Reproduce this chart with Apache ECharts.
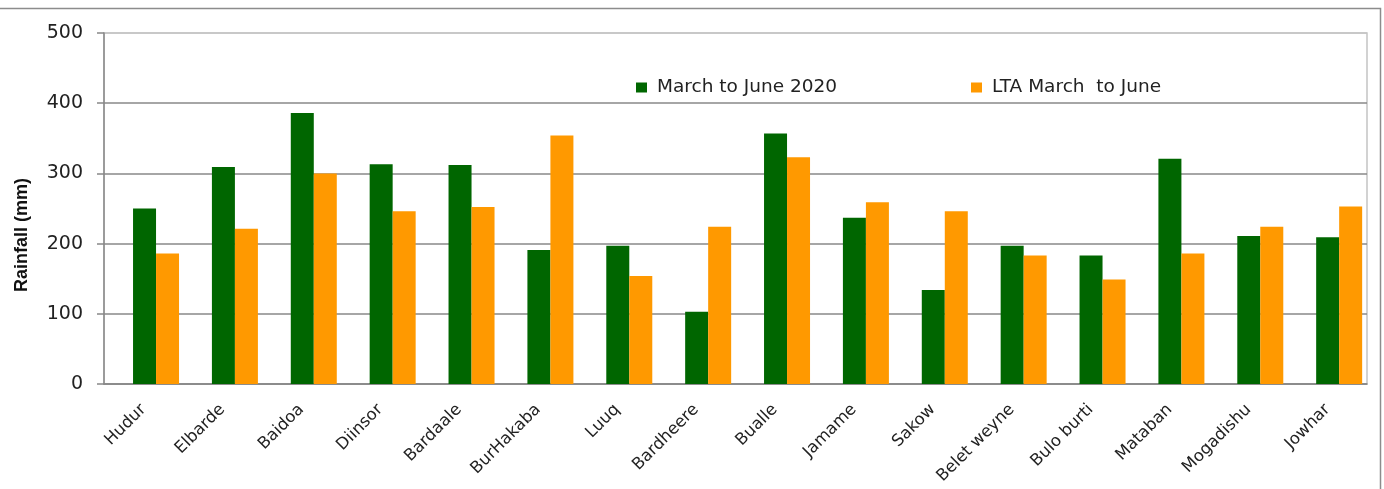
<!DOCTYPE html>
<html><head><meta charset="utf-8">
<script src="https://cdn.jsdelivr.net/npm/echarts@6/dist/echarts.min.js"></script>
<style>html,body{margin:0;padding:0;background:#fff}#c{width:1384px;height:489px}</style>
</head><body><div id="c"></div>
<script>
const categories = ['Hudur','Elbarde','Baidoa','Diinsor','Bardaale','BurHakaba','Luuq','Bardheere','Bualle','Jamame','Sakow','Belet weyne','Bulo burti','Mataban','Mogadishu','Jowhar'];
const seriesNames = ['March to June 2020','LTA March  to June'];
const rain2020 = [250,309,386,313,312,191,197,103,357,237,134,197,183,321,211,209];
const rainLTA = [186,221,300,246,252,354,154,224,323,259,246,183,149,186,224,253];
const yTicks = [0,100,200,300,400,500];
const yTitle = 'Rainfall (mm)';

const chart = echarts.init(document.getElementById('c'));
const TOP = 33, BOTTOM = 105;
const legendText = {fontFamily: 'DejaVu Sans', fontSize: 18.5, lineHeight: 18, color: '#222', padding: [0,0,0,5]};
chart.setOption({
  animation: false,
  backgroundColor: '#fff',
  graphic: [
    {type: 'rect', silent: true, z: 0,
     shape: {x: -10, y: 8.5, width: 1390.5, height: 520},
     style: {fill: 'none', stroke: '#8c8c8c', lineWidth: 1.5}},
    {type: 'text', silent: true, x: 22, y: 235, rotation: Math.PI / 2,
     style: {text: yTitle, fontFamily: 'Liberation Sans', fontWeight: 'bold', fontSize: 18,
             fill: '#111', align: 'center', verticalAlign: 'middle'}}
  ],
  legend: [
    {data: [seriesNames[0]], left: 636, top: 78, padding: 0, itemWidth: 11, itemHeight: 10, icon: 'rect', textStyle: legendText},
    {data: [seriesNames[1]], left: 971, top: 78, padding: 0, itemWidth: 11, itemHeight: 10, icon: 'rect', textStyle: legendText}
  ],
  grid: [
    {left: 104, right: 17, top: TOP, bottom: BOTTOM, outerBoundsMode: 'none', containLabel: false,
     show: true, borderColor: '#c4c4c4', borderWidth: 1.5, z: 0},
    {left: 116.6, width: 1262, top: TOP, bottom: BOTTOM, outerBoundsMode: 'none', containLabel: false}
  ],
  xAxis: [
    {type: 'category', gridIndex: 0, data: categories,
     axisLine: {show: true, lineStyle: {color: '#888', width: 1.5}},
     axisTick: {show: false},
     axisLabel: {rotate: 45, interval: 0, margin: 23, fontFamily: 'DejaVu Sans', fontSize: 16.5, color: '#222'}},
    {type: 'category', gridIndex: 1, data: categories, show: false}
  ],
  yAxis: [
    {type: 'value', gridIndex: 0, min: yTicks[0], max: yTicks[yTicks.length-1], interval: 100,
     axisLine: {show: true, lineStyle: {color: '#888', width: 1.5}},
     axisTick: {show: true, length: 7, lineStyle: {color: '#888', width: 1.5}},
     axisLabel: {margin: 21, fontFamily: 'DejaVu Sans', fontSize: 19, color: '#222'},
     splitLine: {show: true, lineStyle: {color: ['#888','#888','#888','#888','#888','#c4c4c4'], width: 1.5}}},
    {type: 'value', gridIndex: 1, min: yTicks[0], max: yTicks[yTicks.length-1], show: false, splitLine: {show: false}}
  ],
  series: [
    {name: seriesNames[0], type: 'bar', xAxisIndex: 1, yAxisIndex: 1, data: rain2020,
     barWidth: 23, barGap: '0%', itemStyle: {color: '#006600'}, z: 3},
    {name: seriesNames[1], type: 'bar', xAxisIndex: 1, yAxisIndex: 1, data: rainLTA,
     barWidth: 23, barGap: '0%', itemStyle: {color: '#FF9900'}, z: 3}
  ]
});
</script></body></html>
